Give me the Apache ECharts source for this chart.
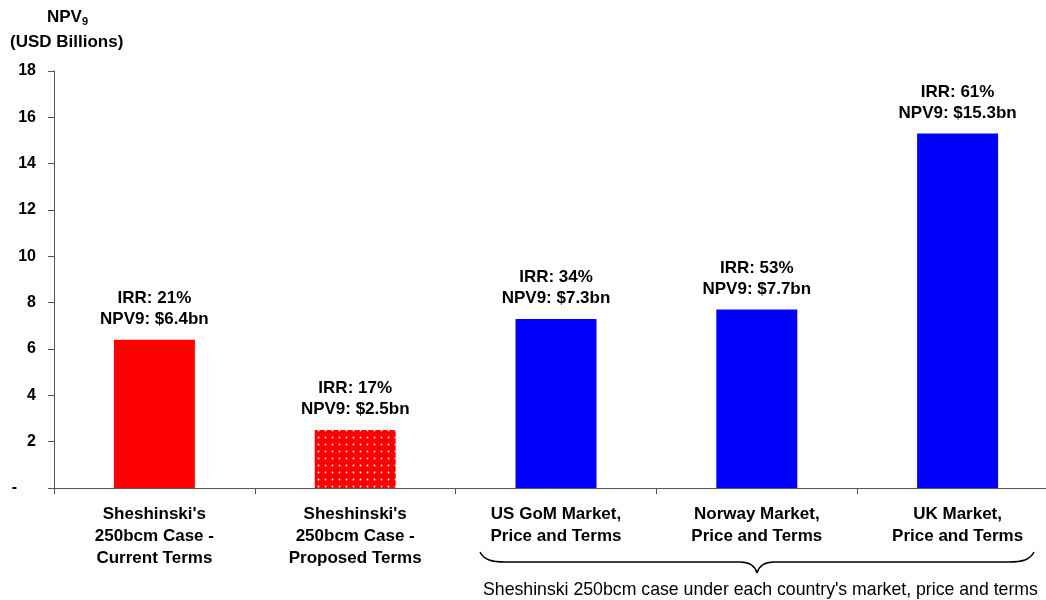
<!DOCTYPE html>
<html>
<head>
<meta charset="utf-8">
<script src="https://cdn.jsdelivr.net/npm/echarts@6/dist/echarts.min.js"></script>
<style>
html,body{margin:0;padding:0;background:#fff;}
#chart{width:1046px;height:600px;}
</style>
</head>
<body>
<div id="chart"></div>
<script>
var categories = [
  "Sheshinski's\n250bcm Case -\nCurrent Terms",
  "Sheshinski's\n250bcm Case -\nProposed Terms",
  "US GoM Market,\nPrice and Terms",
  "Norway Market,\nPrice and Terms",
  "UK Market,\nPrice and Terms"
];
var npvValues = [6.4, 2.5, 7.3, 7.7, 15.3];
var irrValues = [21, 17, 34, 53, 61];
var yTicks = [0, 2, 4, 6, 8, 10, 12, 14, 16, 18];
var groupNote = "Sheshinski 250bcm case under each country's market, price and terms";

var FONT = "'Liberation Sans', Arial, sans-serif";

// dotted pattern for the proposed-terms bar
var pc = document.createElement('canvas');
pc.width = 7; pc.height = 7;
var pctx = pc.getContext('2d');
pctx.fillStyle = '#FF0000';
pctx.fillRect(0, 0, 7, 7);
pctx.fillStyle = '#FFFFFF';
pctx.beginPath();
pctx.arc(3.5, 3.5, 0.9, 0, Math.PI * 2);
pctx.fill();

var barColors = ['#FF0000', {image: pc, repeat: 'repeat'}, '#0000FF', '#0000FF', '#0000FF'];

var seriesData = npvValues.map(function (v, i) {
  return {value: v, itemStyle: {color: barColors[i]}};
});

var braceStyle = {stroke: '#000', lineWidth: 1.5, fill: null};

var chart = echarts.init(document.getElementById('chart'), null, {renderer: 'canvas'});
chart.setOption({
  animation: false,
  backgroundColor: '#fff',
  grid: {left: 54, right: -12, top: 71, bottom: 112, containLabel: false, outerBoundsMode: 'none'},
  xAxis: {
    type: 'category',
    data: categories,
    axisLine: {lineStyle: {color: '#555', width: 1}},
    axisTick: {show: true, alignWithLabel: false, length: 6, lineStyle: {color: '#555'}},
    axisLabel: {
      interval: 0, margin: 15, color: '#000', fontFamily: FONT, fontWeight: 'bold',
      fontSize: 17, lineHeight: 22
    }
  },
  yAxis: {
    type: 'value',
    min: 0, max: 18, interval: 2,
    splitLine: {show: false},
    axisLine: {show: true, lineStyle: {color: '#555', width: 1}},
    axisTick: {show: true, length: 6, lineStyle: {color: '#555'}},
    axisLabel: {
      margin: 18, color: '#000', fontFamily: FONT, fontWeight: 'bold', fontSize: 16,
      formatter: function (v) { return v === 0 ? '{d|-}' : String(v); },
      rich: {d: {fontFamily: FONT, fontWeight: 'bold', fontSize: 16, color: '#000', padding: [0, 19, 0, 0]}}
    }
  },
  series: [{
    type: 'bar',
    data: seriesData,
    barWidth: 81,
    label: {
      show: true, position: 'top', distance: 10,
      color: '#000', fontFamily: FONT, fontWeight: 'bold', fontSize: 17, lineHeight: 21,
      formatter: function (p) {
        return 'IRR: ' + irrValues[p.dataIndex] + '%\nNPV9: $' + npvValues[p.dataIndex].toFixed(1) + 'bn';
      }
    }
  }],
  graphic: [
    {
      type: 'text', left: 47, top: 9,
      style: {
        text: '{a|NPV}{s|9}',
        rich: {
          a: {fontFamily: FONT, fontWeight: 'bold', fontSize: 17, fill: '#000'},
          s: {fontFamily: FONT, fontWeight: 'bold', fontSize: 11, fill: '#000', padding: [8, 0, 0, 0]}
        }
      }
    },
    {
      type: 'text', left: 10, top: 34,
      style: {text: '(USD Billions)', fontFamily: FONT, fontWeight: 'bold', fontSize: 17, fill: '#000'}
    },
    {type: 'bezierCurve', shape: {x1: 480, y1: 552, cpx1: 484, cpy1: 560, cpx2: 492, cpy2: 562, x2: 505, y2: 562}, style: braceStyle},
    {type: 'line', shape: {x1: 505, y1: 562, x2: 740, y2: 562}, style: braceStyle},
    {type: 'bezierCurve', shape: {x1: 740, y1: 562, cpx1: 750, cpy1: 562, cpx2: 755, cpy2: 566, x2: 757, y2: 573}, style: braceStyle},
    {type: 'bezierCurve', shape: {x1: 757, y1: 573, cpx1: 759, cpy1: 566, cpx2: 764, cpy2: 562, x2: 774, y2: 562}, style: braceStyle},
    {type: 'line', shape: {x1: 774, y1: 562, x2: 1009, y2: 562}, style: braceStyle},
    {type: 'bezierCurve', shape: {x1: 1009, y1: 562, cpx1: 1022, cpy1: 562, cpx2: 1030, cpy2: 560, x2: 1034, y2: 552}, style: braceStyle},
    {
      type: 'text', left: 483, top: 581,
      style: {text: groupNote, fontFamily: FONT, fontSize: 17.7, fill: '#000'}
    }
  ]
});
</script>
</body>
</html>
